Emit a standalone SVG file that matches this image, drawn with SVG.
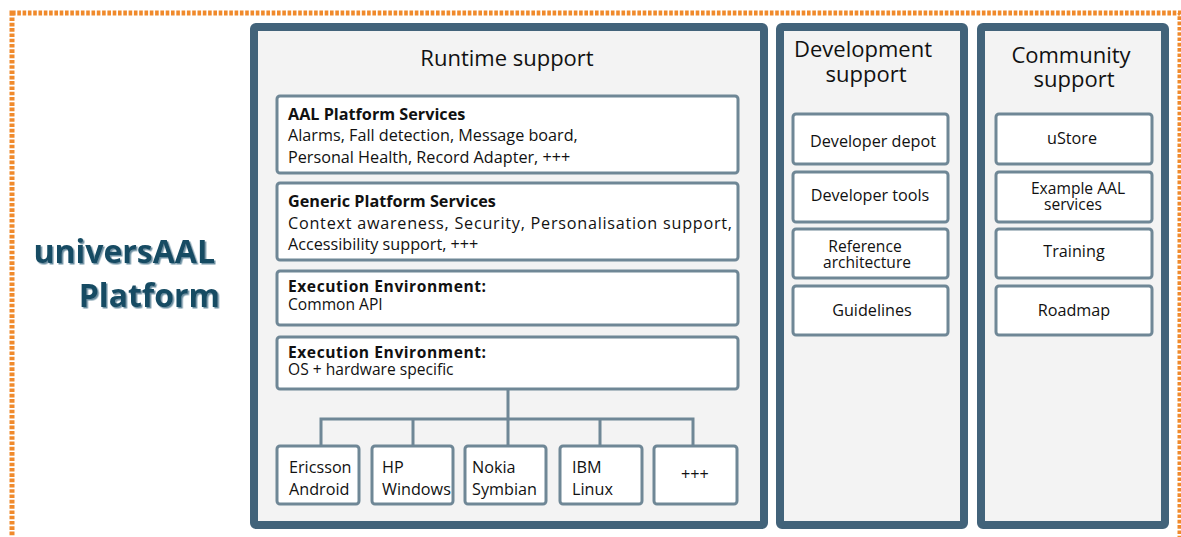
<svg xmlns="http://www.w3.org/2000/svg" width="1181" height="537" viewBox="0 0 1181 537">
<style>
.panel{fill:#f3f3f3;stroke:#42637a;stroke-width:8}
.box{fill:#ffffff;stroke:#6f8796;stroke-width:3}
.t{font-family:"Open Sans","Liberation Sans",sans-serif;fill:#111;font-size:16.2px}
.s{font-size:15.6px}
.b{font-weight:bold}
.h{font-family:"Open Sans","Liberation Sans",sans-serif;fill:#111;font-size:22px;text-anchor:middle}
.c{text-anchor:middle}
.conn{fill:none;stroke:#6f8796;stroke-width:3}
.logo{font-family:"Open Sans","Liberation Sans",sans-serif;font-weight:bold;font-size:32px;fill:#164b63;text-anchor:end}
</style>
<defs>
<filter id="sh" x="-10%" y="-10%" width="130%" height="130%">
<feDropShadow dx="1.5" dy="1.5" stdDeviation="0" flood-color="#6a8ea0" flood-opacity="1"/>
</filter>
</defs>
<rect width="1181" height="537" fill="#ffffff"/>
<rect id="frame" x="12" y="13" width="1168" height="540" fill="none" stroke="#f08a2c" stroke-width="5" stroke-dasharray="3.6 1.7"/>
<g id="title" filter="url(#sh)">
<text class="logo" x="215" y="263">universAAL</text>
<text class="logo" x="220" y="307">Platform</text>
</g>
<g id="runtime">
<rect class="panel" x="254" y="27" width="510" height="498" rx="2"/>
<text class="h" x="507" y="66">Runtime support</text>
</g>
<g id="aal">
<rect class="box" x="277" y="96" width="461" height="77" rx="3"/>
<text class="t b" x="288" y="120">AAL Platform Services</text>
<text class="t" x="288" y="141">Alarms, Fall detection, Message board,</text>
<text class="t" x="288" y="163">Personal Health, Record Adapter, +++</text>
</g>
<g id="generic">
<rect class="box" x="277" y="183" width="461" height="77" rx="3"/>
<text class="t b" x="288" y="207">Generic Platform Services</text>
<text class="t" x="288" y="229" textLength="444" lengthAdjust="spacing">Context awareness, Security, Personalisation support,</text>
<text class="t" x="288" y="250">Accessibility support, +++</text>
</g>
<g id="exec1">
<rect class="box" x="277" y="271" width="461" height="54" rx="3"/>
<text class="t b s" x="288" y="292" textLength="198" lengthAdjust="spacing">Execution Environment:</text>
<text class="t s" x="288" y="310">Common API</text>
</g>
<g id="exec2">
<rect class="box" x="277" y="337" width="461" height="52" rx="3"/>
<text class="t b s" x="288" y="358" textLength="198" lengthAdjust="spacing">Execution Environment:</text>
<text class="t s" x="288" y="375">OS + hardware specific</text>
</g>
<g id="connectors">
<path class="conn" d="M508 389 V419 M321 445 V419 H693 V445 M413 419 V445 M508 419 V445 M600 419 V445"/>
</g>
<g id="ericsson">
<rect class="box" x="277" y="446" width="82" height="58" rx="3"/>
<text class="t" x="289" y="473">Ericsson</text>
<text class="t" x="289" y="495">Android</text>
</g>
<g id="hp">
<rect class="box" x="372" y="446" width="81" height="58" rx="3"/>
<text class="t" x="382" y="473">HP</text>
<text class="t" x="382" y="495">Windows</text>
</g>
<g id="nokia">
<rect class="box" x="465" y="446" width="81" height="58" rx="3"/>
<text class="t" x="472" y="473">Nokia</text>
<text class="t" x="472" y="495">Symbian</text>
</g>
<g id="ibm">
<rect class="box" x="560" y="446" width="82" height="58" rx="3"/>
<text class="t" x="572" y="473">IBM</text>
<text class="t" x="572" y="495">Linux</text>
</g>
<g id="more">
<rect class="box" x="654" y="446" width="83" height="58" rx="3"/>
<text class="t c" x="695" y="480">+++</text>
</g>
<g id="development">
<rect class="panel" x="780" y="27" width="184" height="498" rx="2"/>
<text class="h" x="863" y="57">Development</text>
<text class="h" x="866" y="82">support</text>
</g>
<g id="devdepot">
<rect class="box" x="793" y="114" width="155" height="50" rx="3"/>
<text class="t c" x="873" y="147">Developer depot</text>
</g>
<g id="devtools">
<rect class="box" x="793" y="172" width="155" height="50" rx="3"/>
<text class="t c" x="870" y="201">Developer tools</text>
</g>
<g id="refarch">
<rect class="box" x="793" y="229" width="155" height="49" rx="3"/>
<text class="t c s" x="865" y="252">Reference</text>
<text class="t c s" x="867" y="268">architecture</text>
</g>
<g id="guidelines">
<rect class="box" x="793" y="286" width="155" height="49" rx="3"/>
<text class="t c" x="872" y="316">Guidelines</text>
</g>
<g id="community">
<rect class="panel" x="981" y="27" width="184" height="498" rx="2"/>
<text class="h" x="1071" y="63">Community</text>
<text class="h" x="1074" y="87">support</text>
</g>
<g id="ustore">
<rect class="box" x="996" y="114" width="156" height="50" rx="3"/>
<text class="t c" x="1072" y="144">uStore</text>
</g>
<g id="example">
<rect class="box" x="996" y="172" width="156" height="50" rx="3"/>
<text class="t c s" x="1078" y="194">Example AAL</text>
<text class="t c s" x="1073" y="210">services</text>
</g>
<g id="training">
<rect class="box" x="996" y="229" width="156" height="49" rx="3"/>
<text class="t c" x="1074" y="257">Training</text>
</g>
<g id="roadmap">
<rect class="box" x="996" y="286" width="156" height="49" rx="3"/>
<text class="t c" x="1074" y="316">Roadmap</text>
</g>
</svg>
